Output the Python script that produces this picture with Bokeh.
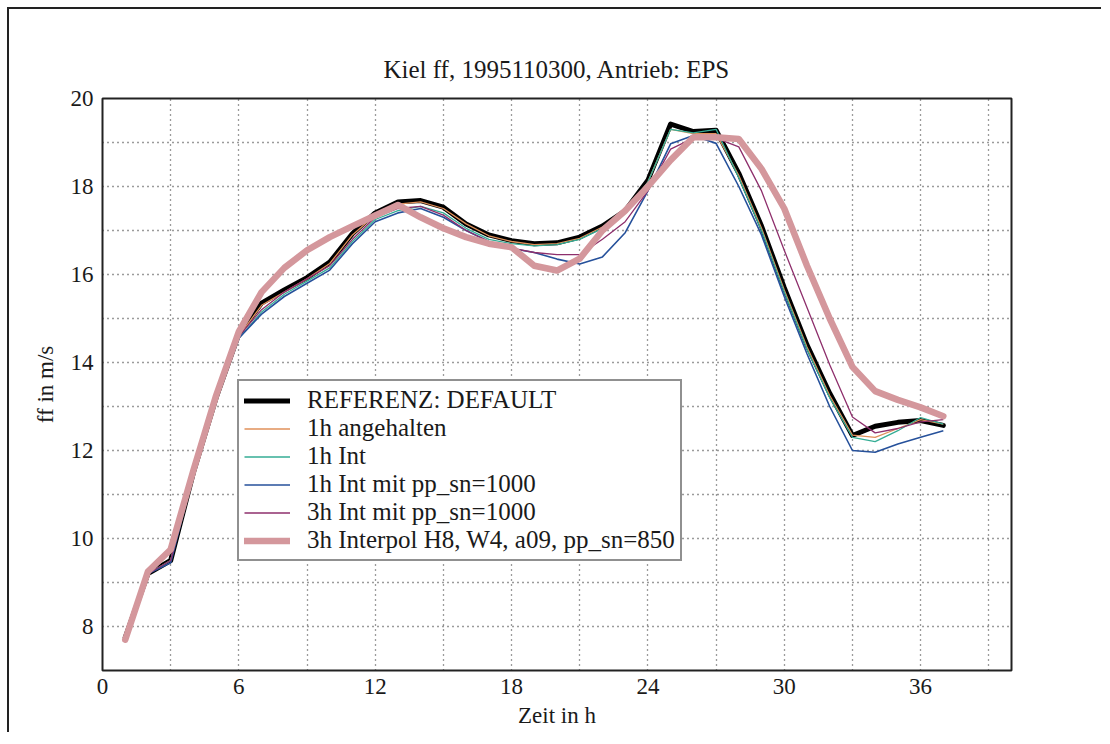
from bokeh.plotting import figure
from bokeh.models import FixedTicker, Legend, LegendItem
from bokeh.embed import file_html
from bokeh.resources import INLINE

# ---- data -------------------------------------------------------------
hours = list(range(1, 38))
referenz = [7.75, 9.2, 9.5, 11.5, 13.2, 14.65, 15.35, 15.65, 15.93, 16.28,
            16.93, 17.4, 17.65, 17.68, 17.53, 17.15, 16.9, 16.77, 16.7, 16.72,
            16.85, 17.1, 17.45, 18.14, 19.42, 19.25, 19.28, 18.3, 17.1, 15.7,
            14.4, 13.3, 12.34, 12.55, 12.64, 12.68, 12.57]
angehalten_1h = [7.75, 9.2, 9.5, 11.5, 13.2, 14.6, 15.3, 15.6, 15.9, 16.25,
                 16.9, 17.35, 17.6, 17.65, 17.5, 17.15, 16.88, 16.75, 16.68, 16.7,
                 16.82, 17.08, 17.42, 18.1, 19.3, 19.2, 19.2, 18.25, 17.05, 15.65,
                 14.35, 13.25, 12.35, 12.3, 12.5, 12.7, 12.6]
int_1h = [7.75, 9.2, 9.5, 11.5, 13.2, 14.55, 15.15, 15.55, 15.85, 16.15,
          16.75, 17.25, 17.45, 17.55, 17.4, 17.05, 16.8, 16.7, 16.65, 16.68,
          16.8, 17.05, 17.4, 18.1, 19.3, 19.22, 19.3, 18.2, 17.0, 15.6,
          14.3, 13.2, 12.3, 12.2, 12.45, 12.75, 12.6]
int_1h_pp = [7.75, 9.2, 9.45, 11.45, 13.15, 14.55, 15.1, 15.5, 15.8, 16.1,
             16.7, 17.2, 17.4, 17.5, 17.3, 17.0, 16.75, 16.59, 16.5, 16.35,
             16.24, 16.4, 16.95, 17.9, 18.97, 19.16, 18.98, 18.0, 16.9, 15.5,
             14.2, 13.0, 12.0, 11.96, 12.15, 12.3, 12.45]
int_3h_pp = [7.75, 9.2, 9.5, 11.5, 13.2, 14.6, 15.2, 15.6, 15.9, 16.2,
             16.8, 17.3, 17.5, 17.55, 17.35, 17.0, 16.75, 16.6, 16.5, 16.45,
             16.45, 16.8, 17.2, 17.9, 18.85, 19.1, 19.1, 18.9, 17.9, 16.55,
             15.25, 13.95, 12.76, 12.4, 12.5, 12.65, 12.7]
interpol_3h = [7.7, 9.25, 9.75, 11.55, 13.25, 14.7, 15.6, 16.15, 16.55, 16.85,
               17.1, 17.34, 17.58, 17.3, 17.05, 16.85, 16.7, 16.62, 16.2, 16.09,
               16.36, 17.0, 17.45, 18.0, 18.6, 19.12, 19.12, 19.08, 18.4, 17.5,
               16.2, 15.0, 13.9, 13.35, 13.15, 12.98, 12.78]

labels = ["REFERENZ: DEFAULT", "1h angehalten", "1h Int",
          "1h Int mit pp_sn=1000", "3h Int mit pp_sn=1000",
          "3h Interpol H8, W4, a09, pp_sn=850"]
x_label_ticks = [0, 6, 12, 18, 24, 30, 36]
x_grid_ticks = [3, 6, 9, 12, 15, 18, 21, 24, 27, 30, 33, 36, 39]
y_label_ticks = [8, 10, 12, 14, 16, 18, 20]
y_grid_ticks = [8, 9, 10, 11, 12, 13, 14, 15, 16, 17, 18, 19]

FONT = "Liberation Serif"
TXT = "#1a1a1a"

p = figure(output_backend="svg", toolbar_location=None,
           frame_width=909, frame_height=572,
           min_border_left=93, min_border_right=90,
           min_border_top=89, min_border_bottom=62,
           x_range=(0, 40), y_range=(7, 20),
           title="Kiel ff, 1995110300, Antrieb: EPS")
p.styles = {"border-top": "2px solid #222", "border-left": "2px solid #222",
            "margin-top": "7px", "margin-left": "7px"}

p.title.align = "center"
p.title.text_font = FONT
p.title.text_font_size = "25px"
p.title.text_font_style = "normal"
p.title.text_color = TXT
p.title.standoff = 31

p.outline_line_color = "#222222"
p.outline_line_width = 2
p.background_fill_color = "white"
p.border_fill_color = "white"

for ax in (p.xaxis[0], p.yaxis[0]):
    ax.axis_line_color = None
    ax.major_tick_line_color = None
    ax.minor_tick_line_color = None
    ax.major_tick_out = 0
    ax.major_tick_in = 0
    ax.minor_tick_out = 0
    ax.minor_tick_in = 0
    ax.major_label_text_font = FONT
    ax.major_label_text_font_size = "23px"
    ax.major_label_text_color = TXT
    ax.axis_label_text_font = FONT
    ax.axis_label_text_font_size = "23px"
    ax.axis_label_text_font_style = "normal"
    ax.axis_label_text_color = TXT

p.xaxis.ticker = FixedTicker(ticks=x_label_ticks)
p.yaxis.ticker = FixedTicker(ticks=y_label_ticks)
p.xaxis.axis_label = "Zeit in h"
p.yaxis.axis_label = "ff in m/s"
p.xaxis.major_label_standoff = 8
p.yaxis.major_label_standoff = 9
p.xaxis.axis_label_standoff = 6
p.yaxis.axis_label_standoff = 10

p.xgrid.ticker = FixedTicker(ticks=x_grid_ticks)
p.ygrid.ticker = FixedTicker(ticks=y_grid_ticks)
for g in (p.xgrid[0], p.ygrid[0]):
    g.grid_line_color = "#222222"
    g.grid_line_dash = "1 4"
    g.grid_line_width = 1.3
    g.grid_line_alpha = 0.9

r_ref = p.line(hours, referenz, line_color="black", line_width=5,
               line_join="round", line_cap="round")
r_ang = p.line(hours, angehalten_1h, line_color="#e0905a", line_width=1.3)
r_int = p.line(hours, int_1h, line_color="#35ad95", line_width=1.3)
r_ipp = p.line(hours, int_1h_pp, line_color="#26519b", line_width=1.6)
r_3pp = p.line(hours, int_3h_pp, line_color="#8e2f6c", line_width=1.3)
r_pol = p.line(hours, interpol_3h, line_color="#d4979c", line_width=6.5,
               line_join="round", line_cap="round")

renderers = [r_ref, r_ang, r_int, r_ipp, r_3pp, r_pol]
legend = Legend(items=[LegendItem(label=l, renderers=[r]) for l, r in zip(labels, renderers)],
                location=(135, 109))
legend.label_text_font = FONT
legend.label_text_font_size = "25px"
legend.label_text_color = TXT
legend.label_height = 27
legend.glyph_height = 27
legend.glyph_width = 46
legend.label_standoff = 17
legend.spacing = 0
legend.padding = 5
legend.margin = 0
legend.border_line_color = "#222222"
legend.border_line_width = 2
legend.background_fill_color = "white"
legend.background_fill_alpha = 1
p.add_layout(legend, "center")

open("out.html", "w").write(file_html(p, INLINE))
